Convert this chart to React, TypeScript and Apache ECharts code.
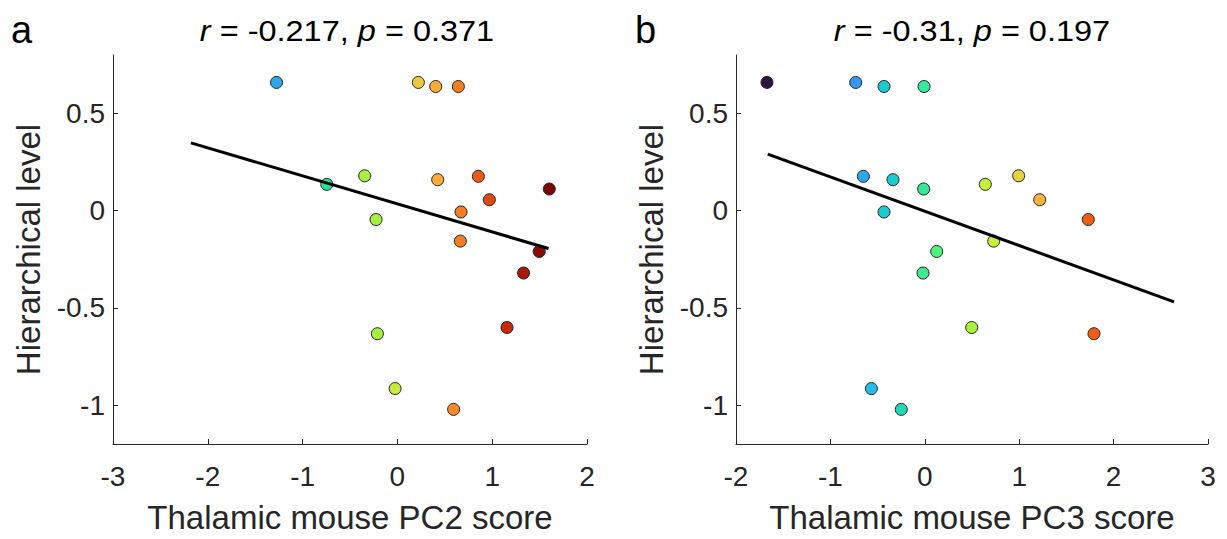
import React, { useEffect, useRef } from "react";
import * as echarts from "echarts";

// Panel a: PC2 score vs hierarchical level
const pc2X = [-1.275, 0.221, 0.404, 0.643, -0.345, -0.745, 0.425, 0.854, 1.602, 0.970, 0.671, -0.225, 0.664, 1.496, 1.331, 1.156, -0.211, -0.024, 0.593];
const pc2Y = [0.659, 0.659, 0.638, 0.638, 0.179, 0.135, 0.159, 0.176, 0.111, 0.056, -0.007, -0.046, -0.157, -0.210, -0.321, -0.601, -0.633, -0.915, -1.022];
const pc2Colors = ["#2aa6ea", "#ecc83c", "#fbab38", "#f67e22", "#a6f040", "#2ae28e", "#fbab38", "#ec5a18", "#7a0606", "#e04a0e", "#f67e22", "#a6f040", "#f67e22", "#8a0a04", "#a81a06", "#c82a06", "#a6f040", "#c8ea3c", "#f88a2c"];
const pc2LineX = [-2.178, 1.594];
const pc2LineY = [0.348, -0.195];

// Panel b: PC3 score vs hierarchical level
const pc3X = [-1.672, -0.732, -0.432, -0.008, -0.651, -0.337, -0.012, -0.432, 0.641, 0.994, 1.217, 1.732, 0.730, 0.126, -0.019, 0.497, 1.792, -0.566, -0.249];
const pc3Y = [0.659, 0.659, 0.638, 0.638, 0.176, 0.159, 0.111, -0.007, 0.135, 0.179, 0.056, -0.046, -0.157, -0.210, -0.321, -0.601, -0.633, -0.915, -1.022];
const pc3Colors = ["#2e1240", "#3498f2", "#1ccad2", "#32ec98", "#2aa8f0", "#1ccad2", "#34ea94", "#1ccad2", "#c4f03c", "#e6d03c", "#fab23e", "#f05e16", "#c8ee3a", "#4cf47e", "#3ee890", "#a8f03c", "#f05e16", "#26bcea", "#1ed8b6"];
const pc3LineX = [-1.664, 2.640];
const pc3LineY = [0.290, -0.469];

const yTicks = [-1, -0.5, 0, 0.5];
const titles = ["{i|r} = -0.217, {i|p} = 0.371", "{i|r} = -0.31, {i|p} = 0.197"];
const panelLabels = ["a", "b"];
const xNames = ["Thalamic mouse PC2 score", "Thalamic mouse PC3 score"];
const yName = "Hierarchical level";

const FONT = "Liberation Sans, Arial, sans-serif";
const TXT = "#262626";

export default function App() {
  const ref = useRef<HTMLDivElement>(null);
  useEffect(() => {
    if (!ref.current) return;
    const chart = echarts.init(ref.current, undefined, { renderer: "svg" });
    const grids = [
      { left: 113, top: 55, width: 474, height: 390 },
      { left: 736, top: 55, width: 472, height: 390 },
    ];
    const xRanges = [[-3, 2], [-2, 3]];
    const xAxis = xRanges.map((r, i) => ({
      type: "value",
      gridIndex: i,
      min: r[0],
      max: r[1],
      interval: 1,
      name: xNames[i],
      nameLocation: "middle",
      nameGap: 57,
      nameTextStyle: { fontSize: 33, color: TXT, fontFamily: FONT },
      axisLine: { show: true, onZero: false, lineStyle: { color: TXT, width: 1 } },
      axisTick: { show: true, inside: true, length: 5, lineStyle: { color: TXT } },
      axisLabel: { fontSize: 28, color: TXT, fontFamily: FONT, margin: 18 },
      splitLine: { show: false },
    }));
    const yAxis = [0, 1].map((i) => ({
      type: "value",
      gridIndex: i,
      min: -1.2,
      max: 0.8,
      name: yName,
      nameLocation: "middle",
      nameGap: 68,
      nameRotate: 90,
      nameTextStyle: { fontSize: 33, color: TXT, fontFamily: FONT },
      axisLine: { show: true, onZero: false, lineStyle: { color: TXT, width: 1 } },
      axisTick: { show: true, inside: true, length: 5, lineStyle: { color: TXT }, customValues: yTicks },
      axisLabel: { fontSize: 28, color: TXT, fontFamily: FONT, margin: 8, customValues: yTicks },
      splitLine: { show: false },
    }));
    const scat = (xs: number[], ys: number[], cs: string[], idx: number) => ({
      type: "scatter",
      xAxisIndex: idx,
      yAxisIndex: idx,
      symbolSize: 12,
      z: 3,
      itemStyle: { opacity: 1 },
      data: xs.map((x, k) => ({
        value: [x, ys[k]],
        itemStyle: { color: cs[k], borderColor: "#222", borderWidth: 1, opacity: 1 },
      })),
    });
    const line = (xs: number[], ys: number[], idx: number) => ({
      type: "line",
      xAxisIndex: idx,
      yAxisIndex: idx,
      symbol: "none",
      z: 4,
      lineStyle: { color: "#000", width: 3 },
      data: xs.map((x, k) => [x, ys[k]]),
    });
    const centers = [347, 972];
    const labX = [11, 635];
    chart.setOption({
      animation: false,
      grid: grids,
      xAxis,
      yAxis,
      series: [
        scat(pc2X, pc2Y, pc2Colors, 0),
        line(pc2LineX, pc2LineY, 0),
        scat(pc3X, pc3Y, pc3Colors, 1),
        line(pc3LineX, pc3LineY, 1),
      ],
      graphic: [0, 1].flatMap((i) => [
        {
          type: "text",
          x: centers[i],
          y: 31,
          scaleX: 1.12,
          style: {
            text: titles[i],
            x: 0,
            y: 0,
            align: "center",
            verticalAlign: "middle",
            fontSize: 29,
            fontFamily: FONT,
            fill: "#000",
            rich: { i: { fontStyle: "italic", fontSize: 29, fontFamily: FONT, fill: "#000" } },
          },
        },
        {
          type: "text",
          x: labX[i],
          y: 30,
          style: {
            text: panelLabels[i],
            align: "left",
            verticalAlign: "middle",
            fontSize: 38,
            fontFamily: FONT,
            fill: "#000",
          },
        },
      ]),
    });
    return () => chart.dispose();
  }, []);
  return <div ref={ref} style={{ width: 1227, height: 539, position: "absolute", left: 0, top: 0, background: "#fff" }} />;
}
